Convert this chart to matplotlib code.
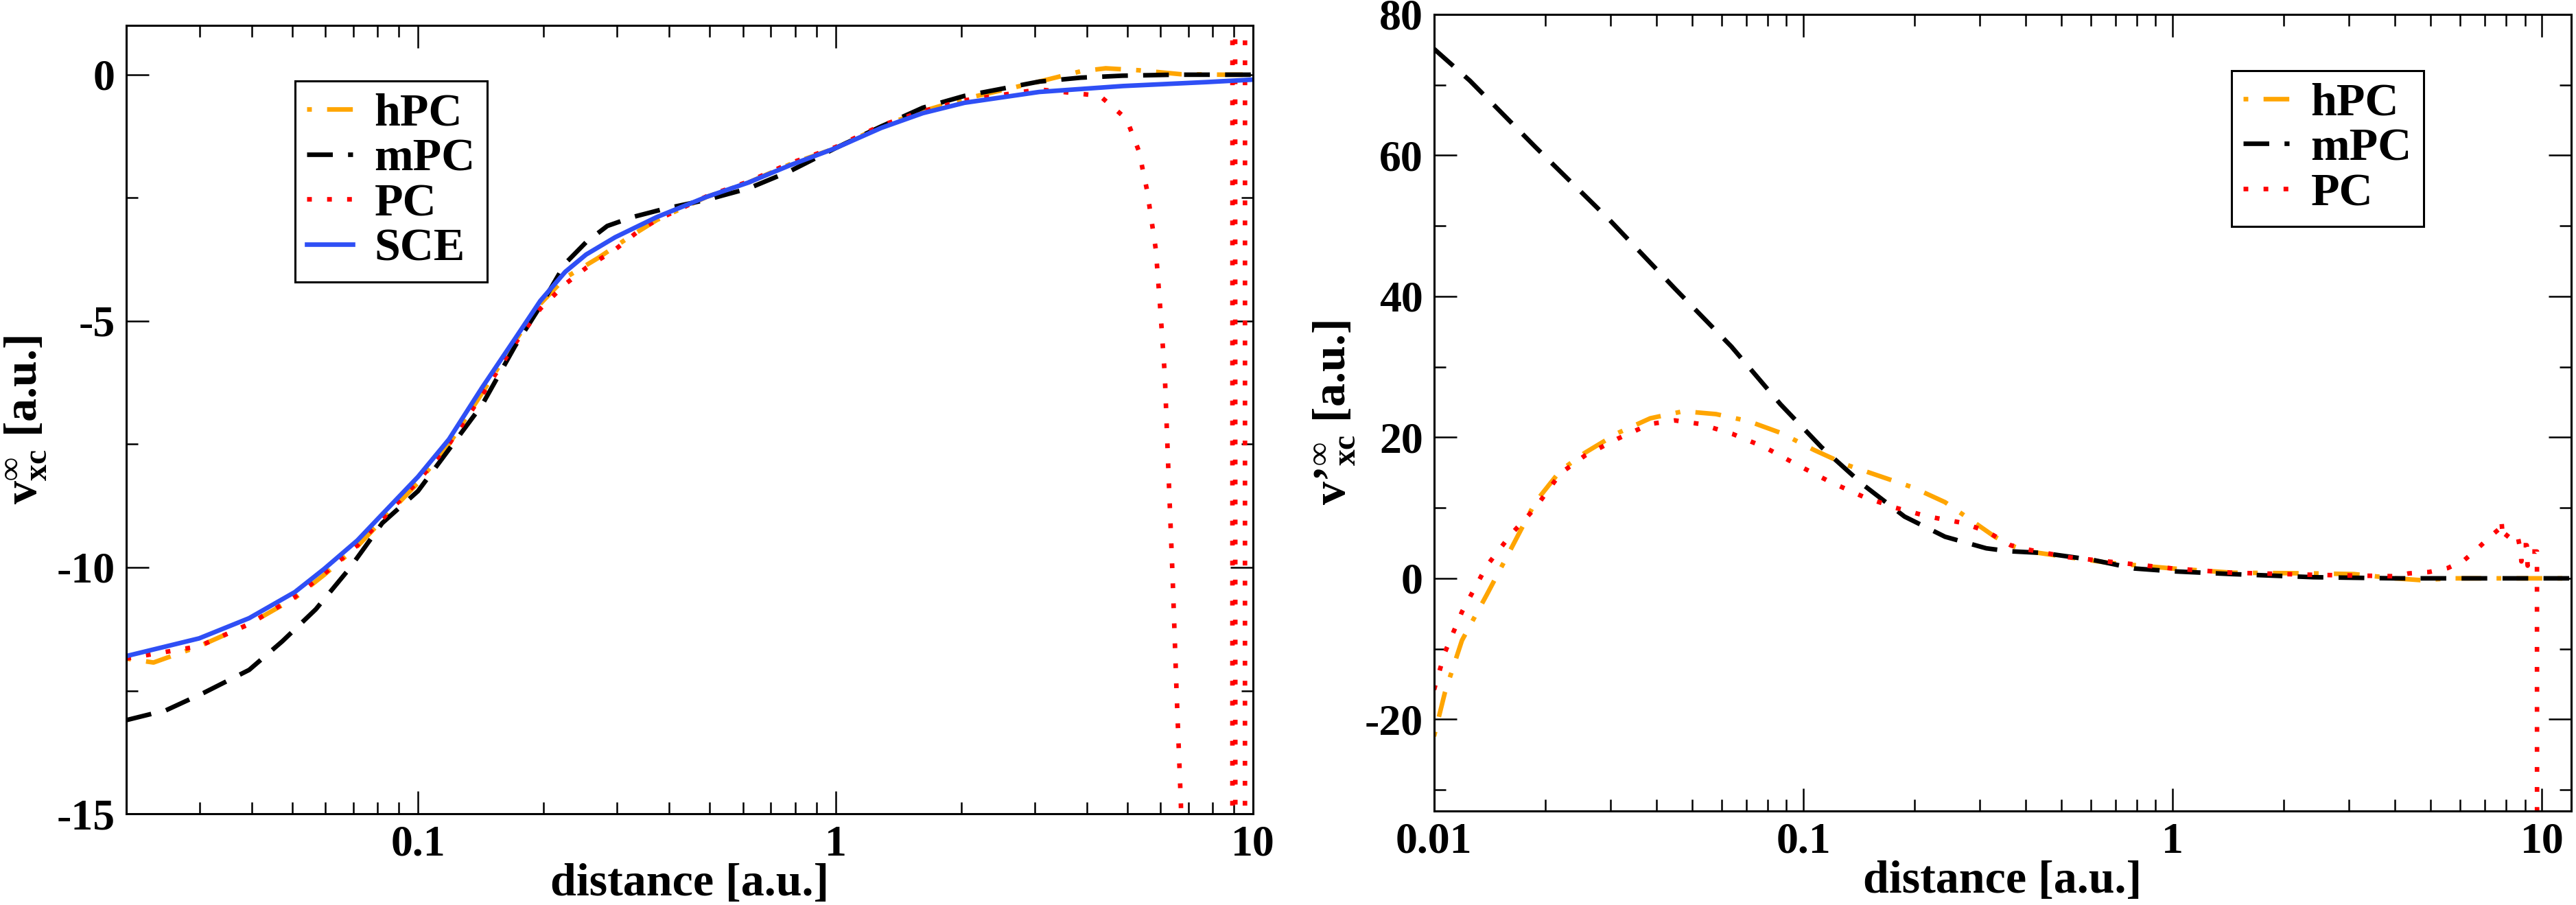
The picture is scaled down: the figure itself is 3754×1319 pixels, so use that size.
import numpy as np
import matplotlib
matplotlib.use("Agg")
import matplotlib.pyplot as plt
from matplotlib.ticker import FixedLocator, LogLocator, MultipleLocator, FixedFormatter, NullFormatter

# ---------------- data: left panel (v_xc) ----------------
sce_x = [0.02, 0.0299, 0.0394, 0.0507, 0.0596, 0.0716, 0.0821, 0.1, 0.1186, 0.1424, 0.171,
         0.1963, 0.2253, 0.2527, 0.2965, 0.373, 0.491, 0.618, 0.777, 1.0, 1.287, 1.619,
         2.037, 3.076, 4.88, 7.75, 10.0]
sce_y = [-11.8, -11.44, -11.03, -10.5, -10.03, -9.45, -8.92, -8.16, -7.4, -6.35, -5.35,
         -4.59, -4.0, -3.65, -3.3, -2.89, -2.48, -2.19, -1.84, -1.49, -1.08, -0.78,
         -0.57, -0.35, -0.23, -0.15, -0.1]

hpc_x = [0.02, 0.02325, 0.0299, 0.0394, 0.0507, 0.0596, 0.0716, 0.1, 0.1186, 0.1424, 0.171,
         0.1963, 0.2253, 0.27, 0.32, 0.373, 0.491, 0.618, 0.777, 1.0, 1.287, 1.619, 2.037,
         3.076, 3.87, 4.44, 5.33, 6.71, 8.5, 10.0]
hpc_y = [-11.85, -11.93, -11.6, -11.15, -10.62, -10.15, -9.57, -8.28, -7.5, -6.46, -5.4,
         -4.65, -4.12, -3.72, -3.3, -2.95, -2.48, -2.19, -1.82, -1.49, -1.05, -0.74, -0.49,
         -0.14, 0.07, 0.13, 0.09, 0.01, 0.0, 0.0]

mpc_x = [0.02, 0.0249, 0.0306, 0.0394, 0.0473, 0.0569, 0.0684, 0.0821, 0.1, 0.1424, 0.171,
         0.1963, 0.2253, 0.2527, 0.284, 0.3264, 0.39, 0.491, 0.618, 0.777, 1.0, 1.287,
         1.619, 2.037, 3.076, 3.87, 4.88, 6.5, 10.0]
mpc_y = [-13.1, -12.9, -12.55, -12.08, -11.5, -10.85, -10.03, -9.1, -8.45, -6.7, -5.5,
         -4.7, -3.83, -3.4, -3.07, -2.89, -2.72, -2.54, -2.31, -1.96, -1.49, -1.05,
         -0.67, -0.43, -0.14, -0.06, -0.02, 0.0, 0.0]

pc_x = [0.02, 0.0299, 0.0394, 0.0507, 0.0596, 0.0716, 0.1, 0.1186, 0.1424, 0.171, 0.1963,
        0.2253, 0.2527, 0.2965, 0.34, 0.373, 0.491, 0.618, 0.777, 1.0, 1.287, 1.619, 2.037,
        3.076, 3.69, 4.3, 4.98, 5.33, 5.58, 5.85, 5.98, 6.15, 6.26, 6.42, 6.56, 6.72, 6.8,
        8.9, 8.96, 9.17, 9.55, 9.59, 10.0]
pc_y = [-11.85, -11.6, -11.15, -10.6, -10.13, -9.55, -8.25, -7.5, -6.5, -5.45, -4.75,
        -4.25, -3.92, -3.55, -3.15, -2.95, -2.47, -2.17, -1.8, -1.47, -1.03, -0.74, -0.52,
        -0.3, -0.37, -0.43, -0.9, -1.55, -2.36, -3.54, -4.6, -6.1, -7.85, -10.2, -12.5,
        -14.8, -17.0, -200.0, 200.0, -200.0, -200.0, 200.0, 200.0]

# ---------------- data: right panel (v'_xc) ----------------
mpc2_x = [0.01, 0.0125, 0.0188, 0.0298, 0.0449, 0.0638, 0.0867, 0.112, 0.145, 0.188, 0.242,
          0.313, 0.36, 0.445, 0.61, 0.787, 1.0, 1.45, 2.41, 4.0, 12.0]
mpc2_y = [75.1, 70.6, 61.2, 50.9, 41.1, 32.9, 24.7, 18.6, 13.3, 8.76, 5.9,
          4.26, 3.85, 3.6, 2.6, 1.4, 1.0, 0.6, 0.16, 0.0, 0.0]

hpc2_x = [0.01, 0.0107, 0.0119, 0.0139, 0.0162, 0.0188, 0.0220, 0.0256, 0.0314, 0.0385,
          0.0473, 0.0580, 0.0710, 0.0872, 0.107, 0.131, 0.161, 0.198, 0.242, 0.282, 0.330,
          0.364, 0.404, 0.521, 0.671, 1.0, 1.45, 2.41, 3.1, 4.0, 4.68, 5.74, 12.0]
hpc2_y = [-22.4, -16.2, -8.8, -2.3, 4.3, 10.8, 15.3, 17.8, 20.6, 22.7,
          23.7, 23.3, 22.3, 20.6, 18.2, 16.1, 14.5, 12.9, 10.8, 8.4, 5.9,
          4.7, 3.85, 3.0, 2.2, 1.4, 0.8, 0.7, 0.6, 0.0, -0.25, 0.0, 0.0]

pc2_x = [0.01, 0.0107, 0.0119, 0.0139, 0.0162, 0.0188, 0.0220, 0.0256, 0.0314, 0.0385,
         0.0449, 0.0525, 0.0642, 0.0786, 0.0963, 0.118, 0.145, 0.178, 0.218, 0.268, 0.313,
         0.364, 0.404, 0.521, 1.0, 1.45, 2.41, 4.0, 4.36, 4.95, 5.56, 6.14, 6.69, 7.22,
         7.7, 7.77, 7.85, 8.22, 8.6, 8.75, 8.8, 8.85, 9.1, 9.15, 9.3, 9.7, 9.72]
pc2_y = [-15.8, -10.5, -4.75, 1.8, 6.3, 10.0, 14.9, 17.4, 19.8, 21.9,
         22.4, 21.9, 20.5, 18.6, 16.1, 13.7, 11.6, 10.0, 8.76, 7.9, 6.7,
         4.7, 4.1, 3.0, 1.4, 0.8, 0.5, 0.3, 0.7, 0.9, 1.46, 2.5, 4.2, 5.85,
         7.1, 8.3, 5.4, 6.7, 6.0, 4.0, 2.4, 4.7, 4.7, 1.8, 3.8, 3.8, -200.0]

left_xticks = [0.1, 1, 10]
left_xticklabels = ["0.1", "1", "10"]
right_xticks = [0.01, 0.1, 1, 10]
right_xticklabels = ["0.01", "0.1", "1", "10"]

# ---------------- style ----------------
plt.rcParams.update({
    "font.family": ["Liberation Serif", "DejaVu Serif"],
    "font.weight": "bold",
    "axes.labelweight": "bold",
    "mathtext.fontset": "custom",
    "mathtext.rm": "Liberation Serif:bold",
    "mathtext.bf": "Liberation Serif:bold",
    "mathtext.it": "Liberation Serif:bold",
    "mathtext.default": "bf",
    "axes.unicode_minus": False,
    "lines.scale_dashes": False,
})

C_ORANGE = "#ffa500"
C_RED = "#ff0000"
C_BLUE = "#2f4ff5"
C_BLACK = "#000000"
LW = 4.8
DASH_H = (0, (5, 16, 27, 16))
DASH_M = (0, (27, 16))
DASH_P = (0, (5, 16))

TICK_FS = 46
LAB_FS = 49

fig = plt.figure(figsize=(37.54, 13.19), dpi=100)
ax1 = fig.add_axes([0.0490, 0.1008, 0.4374, 0.8711])
ax2 = fig.add_axes([0.5567, 0.1039, 0.4414, 0.8802])


def style_axes(ax):
    ax.set_xscale("log")
    for s in ax.spines.values():
        s.set_linewidth(2.2)
    ax.tick_params(which="both", direction="in", top=True, right=True, width=1.8)
    ax.tick_params(which="major", length=24)
    ax.tick_params(which="minor", length=12)
    ax.tick_params(axis="x", which="major", pad=12, labelsize=TICK_FS)
    ax.tick_params(axis="y", which="major", pad=11.5, labelsize=TICK_FS)
    ax.xaxis.set_minor_locator(LogLocator(base=10, subs=np.arange(2, 10), numticks=50))
    ax.xaxis.set_minor_formatter(NullFormatter())


# left panel
ax1.plot(hpc_x, hpc_y, color=C_ORANGE, lw=LW, linestyle=DASH_H, label="hPC")
ax1.plot(mpc_x, mpc_y, color=C_BLACK, lw=LW, linestyle=DASH_M, label="mPC")
ax1.plot(pc_x, pc_y, color=C_RED, lw=LW, linestyle=DASH_P, label="PC")
ax1.plot(sce_x, sce_y, color=C_BLUE, lw=LW, linestyle="-", label="SCE")
style_axes(ax1)
ax1.set_xlim(0.02, 10)
ax1.set_ylim(-15, 1)
ax1.xaxis.set_major_locator(FixedLocator(left_xticks))
ax1.xaxis.set_major_formatter(FixedFormatter(left_xticklabels))
ax1.yaxis.set_major_locator(MultipleLocator(5))
ax1.yaxis.set_minor_locator(MultipleLocator(2.5))
ax1.set_xlabel("distance [a.u.]", fontsize=LAB_FS, fontweight="bold", labelpad=-2)
ax1.set_ylabel("v$_{xc}^{\\infty}$ [a.u.]", fontsize=LAB_FS, fontweight="bold")
ax1.yaxis.set_label_coords(-0.0694, 0.5)
leg1 = ax1.legend(loc="upper left", bbox_to_anchor=(0.1498, 0.9295), borderaxespad=0,
                  fontsize=LAB_FS, frameon=True, fancybox=False, framealpha=1,
                  edgecolor="black", handlelength=0.98, handletextpad=0.47,
                  labelspacing=0.06, borderpad=0.25)
leg1.get_frame().set_linewidth(2.2)

# right panel
ax2.plot(hpc2_x, hpc2_y, color=C_ORANGE, lw=LW, linestyle=DASH_H, label="hPC")
ax2.plot(mpc2_x, mpc2_y, color=C_BLACK, lw=LW, linestyle=DASH_M, label="mPC")
ax2.plot(pc2_x, pc2_y, color=C_RED, lw=LW, linestyle=DASH_P, label="PC")
style_axes(ax2)
ax2.set_xlim(0.01, 12)
ax2.set_ylim(-33, 80)
ax2.xaxis.set_major_locator(FixedLocator(right_xticks))
ax2.xaxis.set_major_formatter(FixedFormatter(right_xticklabels))
ax2.yaxis.set_major_locator(MultipleLocator(20))
ax2.yaxis.set_minor_locator(MultipleLocator(10))
ax2.set_xlabel("distance [a.u.]", fontsize=LAB_FS, fontweight="bold", labelpad=-2)
ax2.set_ylabel("v\u2019$_{xc}^{\\infty}$ [a.u.]", fontsize=LAB_FS, fontweight="bold")
ax2.yaxis.set_label_coords(-0.0682, 0.5)
leg2 = ax2.legend(loc="upper left", bbox_to_anchor=(0.7013, 0.9294), borderaxespad=0,
                  fontsize=LAB_FS, frameon=True, fancybox=False, framealpha=1,
                  edgecolor="black", handlelength=0.98, handletextpad=0.47,
                  labelspacing=0.06, borderpad=0.25)
leg2.get_frame().set_linewidth(2.2)

fig.savefig("out.png", dpi=100)
